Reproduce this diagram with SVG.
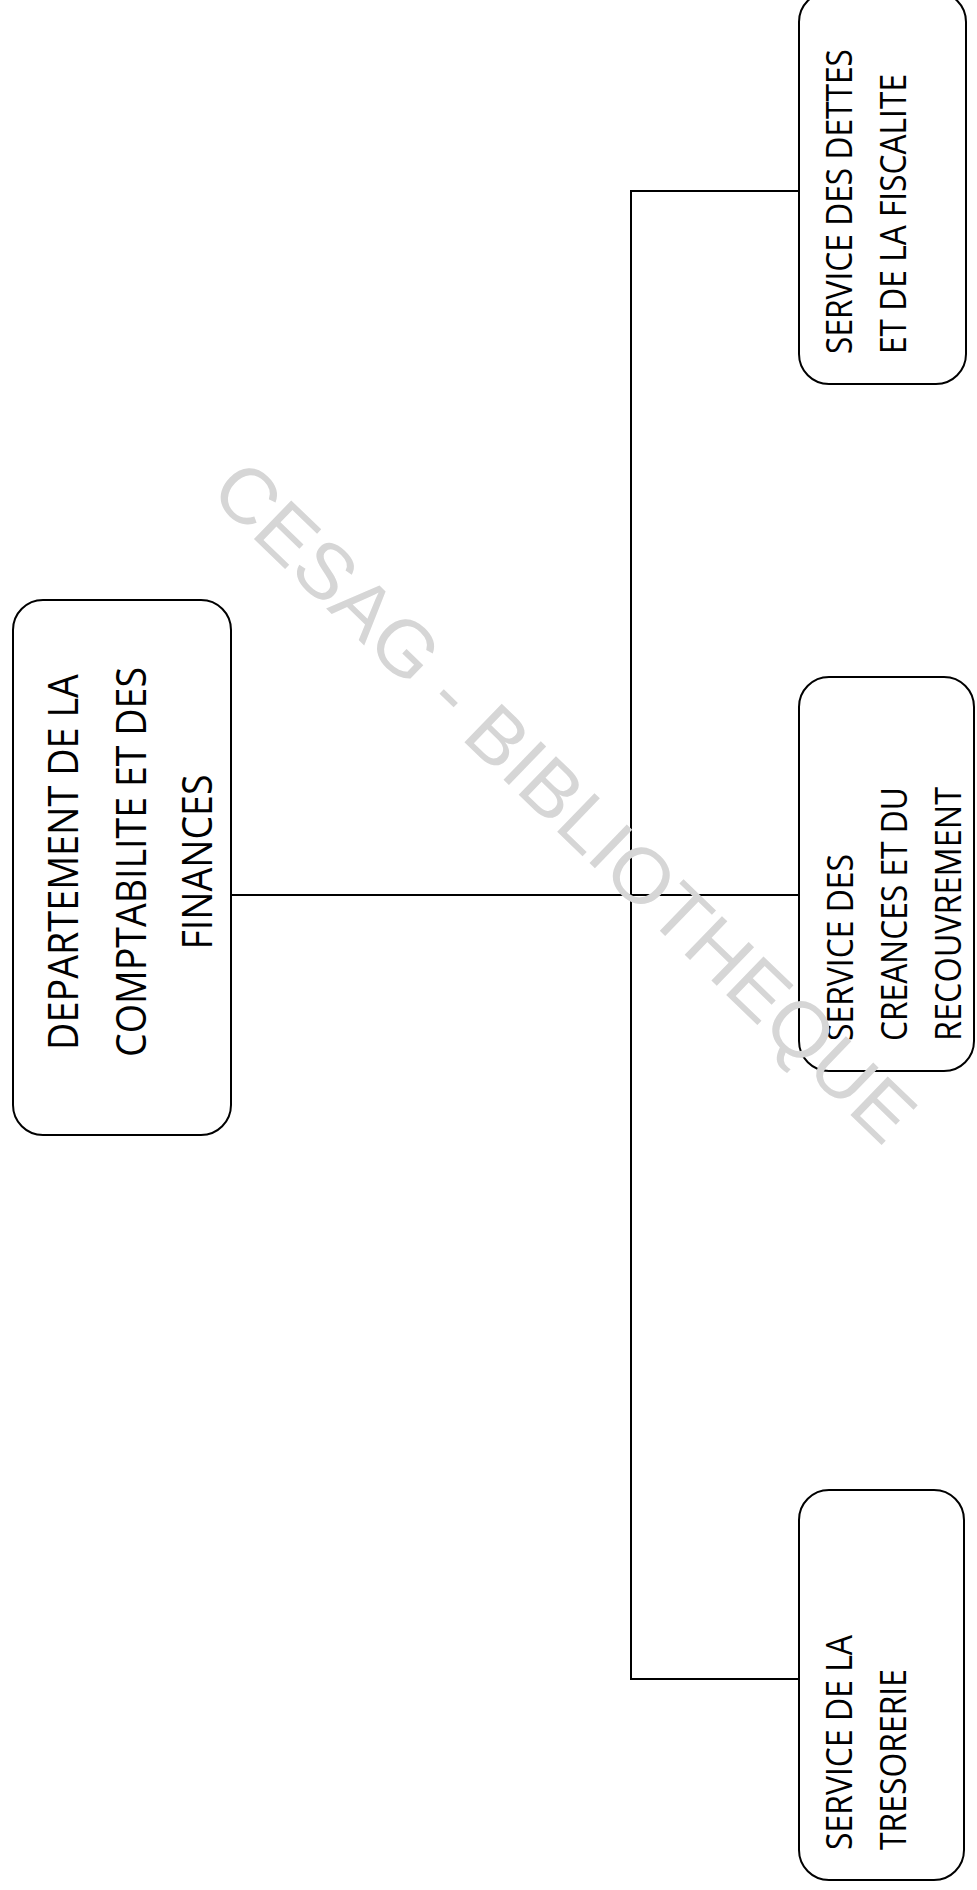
<svg xmlns="http://www.w3.org/2000/svg" width="977" height="1890" viewBox="0 0 977 1890">
<style>
.bg{fill:#ffffff}
.box{fill:#ffffff;stroke:#000000;stroke-width:2}
.conn{fill:none;stroke:#000000;stroke-width:2}
.t{font-family:"Open Sans","Noto Sans",sans-serif;font-weight:500;fill:#000000}
.big{font-size:42px}
.sm{font-size:36px}
.wm{font-family:"Liberation Sans","DejaVu Sans",sans-serif;font-size:78px;fill:#d6d6d6}
</style>
<rect class="bg" x="0" y="0" width="977" height="1890"/>
<g id="connectors">
<polyline class="conn" points="799,191 631,191 631,1679 799,1679"/>
<line class="conn" x1="231" y1="895" x2="799" y2="895"/>
</g>
<g id="node-departement">
<rect class="box" x="13" y="600" width="218" height="535" rx="30" ry="30"/>
<text class="t big" x="78" y="862" text-anchor="middle" textLength="376" lengthAdjust="spacingAndGlyphs" transform="rotate(-90 78 862)">DEPARTEMENT DE LA</text>
<text class="t big" x="146" y="862" text-anchor="middle" textLength="390" lengthAdjust="spacingAndGlyphs" transform="rotate(-90 146 862)">COMPTABILITE ET DES</text>
<text class="t big" x="212" y="862" text-anchor="middle" textLength="175" lengthAdjust="spacingAndGlyphs" transform="rotate(-90 212 862)">FINANCES</text>
</g>
<g id="node-dettes">
<rect class="box" x="799" y="-8" width="167" height="392" rx="30" ry="30"/>
<text class="t sm" x="852" y="354" textLength="305" lengthAdjust="spacingAndGlyphs" transform="rotate(-90 852 354)">SERVICE DES DETTES</text>
<text class="t sm" x="906" y="354" textLength="280" lengthAdjust="spacingAndGlyphs" transform="rotate(-90 906 354)">ET DE LA FISCALITE</text>
</g>
<g id="node-creances">
<rect class="box" x="799" y="677" width="175" height="394" rx="30" ry="30"/>
<text class="t sm" x="853" y="1041" textLength="187" lengthAdjust="spacingAndGlyphs" transform="rotate(-90 853 1041)">SERVICE DES</text>
<text class="t sm" x="907" y="1041" textLength="254" lengthAdjust="spacingAndGlyphs" transform="rotate(-90 907 1041)">CREANCES ET DU</text>
<text class="t sm" x="961" y="1041" textLength="254" lengthAdjust="spacingAndGlyphs" transform="rotate(-90 961 1041)">RECOUVREMENT</text>
</g>
<g id="node-tresorerie">
<rect class="box" x="799" y="1490" width="165" height="390" rx="30" ry="30"/>
<text class="t sm" x="852" y="1850" textLength="215" lengthAdjust="spacingAndGlyphs" transform="rotate(-90 852 1850)">SERVICE DE LA</text>
<text class="t sm" x="906" y="1850" textLength="181" lengthAdjust="spacingAndGlyphs" transform="rotate(-90 906 1850)">TRESORERIE</text>
</g>
<text class="wm" x="546" y="821" text-anchor="middle" textLength="940" lengthAdjust="spacingAndGlyphs" transform="rotate(44 546 821)">CESAG - BIBLIOTHEQUE</text>
</svg>
